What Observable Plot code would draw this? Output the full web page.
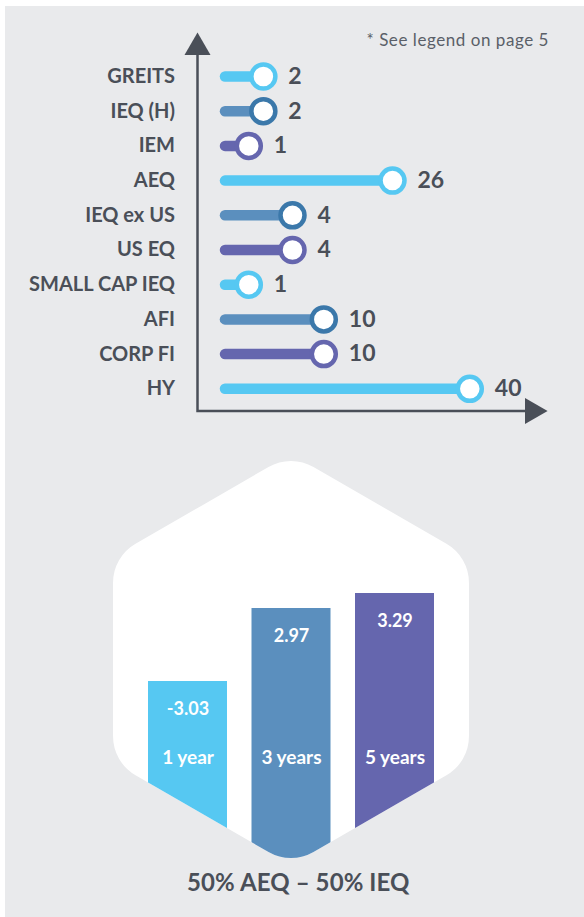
<!DOCTYPE html>
<html>
<head>
<meta charset="utf-8">
<script src="https://cdn.jsdelivr.net/npm/d3@7"></script>
<script src="https://cdn.jsdelivr.net/npm/@observablehq/plot@0.6"></script>
<style>
  body { margin: 0; background: #ffffff; }
  #page { position: relative; width: 584px; height: 917px; overflow: hidden; font-family: Lato, "Open Sans", sans-serif; }
  #bg { position: absolute; left: 5px; top: 6px; right: 0; bottom: 0; background: #e9eaec; }
  #top, #bottom { position: absolute; left: 0; }
  #top { top: 0; }
  #bottom { top: 440px; }
  #note { position: absolute; right: 35px; top: 30px; font-size: 17px; letter-spacing: 0.55px; line-height: 20px; color: #5a5f68; white-space: nowrap; }
  #caption { position: absolute; left: 187px; top: 868px; font-size: 24px; letter-spacing: 0.1px; line-height: 28px; font-weight: bold; color: #4a4f58; white-space: nowrap; }
  svg text { font-weight: bold; }
</style>
</head>
<body>
<div id="page">
  <div id="bg"></div>
  <div id="top"></div>
  <div id="note"></div>
  <div id="bottom"></div>
  <div id="caption"></div>
</div>
<script>
// ---- data ----
const categories = ["GREITS", "IEQ (H)", "IEM", "AEQ", "IEQ ex US", "US EQ", "SMALL CAP IEQ", "AFI", "CORP FI", "HY"];
const weights = [2, 2, 1, 26, 4, 4, 1, 10, 10, 40];
const periods = ["1 year", "3 years", "5 years"];
const returns = [-3.03, 2.97, 3.29];
const noteText = "* See legend on page 5";
const captionText = "50% AEQ \u2013 50% IEQ";

// ---- styles ----
const ink = "#4a4f58";
const barColors = ["#56c8f2", "#5b8fbe", "#6566ae"];
const ringColors = ["#56c8f2", "#3b78aa", "#6566ae"];

const rows = categories.map((name, i) => ({name, value: weights[i], tone: i % 3}));
const bars = periods.map((period, i) => ({period, value: returns[i], tone: i}));

// axis lines with arrowheads, drawn from the frame dimensions
function arrowAxes(index, scales, values, dims) {
  const {width, height, marginLeft, marginRight, marginTop, marginBottom} = dims;
  const x0 = marginLeft, y0 = height - marginBottom, x1 = width - marginRight, y1 = marginTop;
  const g = d3.create("svg:g");
  g.append("path")
    .attr("d", `M${x0},${y1}V${y0}H${x1}`)
    .attr("fill", "none").attr("stroke", ink).attr("stroke-width", 2.5);
  g.append("path")
    .attr("d", `M${x0 - 13},${y1}L${x0},${y1 - 22.6}L${x0 + 13},${y1}Z`)
    .attr("fill", ink);
  g.append("path")
    .attr("d", `M${x1},${y0 - 13}L${x1 + 22.6},${y0}L${x1},${y0 + 13}Z`)
    .attr("fill", ink);
  return g.node();
}

const topChart = Plot.plot({
  width: 584,
  height: 440,
  marginTop: 55,
  marginBottom: 29,
  marginLeft: 197.5,
  marginRight: 59,
  style: {background: "transparent", color: ink, fontFamily: "Lato, 'Open Sans', sans-serif", overflow: "visible"},
  x: {type: "linear", domain: [0, 1, 4, 10, 26, 40], range: [225, 248.3, 292, 323.3, 392, 469.3], axis: null},
  y: {type: "point", domain: categories, padding: 0, round: false, insetTop: 21, insetBottom: 22.7, axis: null},
  color: {type: "identity"},
  marks: [
    arrowAxes,
    Plot.axisY({tickSize: 0, tickPadding: 23, fontSize: 20, fontWeight: "bold", label: null, fill: ink}),
    Plot.ruleY(rows, {y: "name", x1: 0, x2: "value", stroke: d => barColors[d.tone], strokeWidth: 10.5, strokeLinecap: "round"}),
    Plot.dot(rows, {x: "value", y: "name", r: 12, fill: "white", stroke: d => ringColors[d.tone], strokeWidth: 4.5}),
    Plot.text(rows, {x: "value", y: "name", text: d => String(d.value), dx: 25, textAnchor: "start", fontSize: 23, fontWeight: "bold", fill: ink})
  ]
});
document.getElementById("top").appendChild(topChart);

// rounded hexagon panel behind the bars
const hexR = 205.5, hexCorner = 45;
function hexPathD(cx, cy) {
  const pts = d3.range(6).map(i => {
    const a = (-90 + 60 * i) * Math.PI / 180;
    return [cx + hexR * Math.cos(a), cy + hexR * Math.sin(a)];
  });
  const p = d3.path();
  const m = [(pts[5][0] + pts[0][0]) / 2, (pts[5][1] + pts[0][1]) / 2];
  p.moveTo(m[0], m[1]);
  for (let i = 0; i < 6; i++) {
    const a = pts[i], b = pts[(i + 1) % 6];
    p.arcTo(a[0], a[1], b[0], b[1], hexCorner);
  }
  p.closePath();
  return p.toString();
}
function hexPanel(index, scales, values, dims) {
  const x = scales.x;
  const cx = (x(periods[0]) + x(periods[periods.length - 1]) + x.bandwidth()) / 2;
  const cy = dims.height / 2 + 4.5;
  const d = hexPathD(cx, cy);
  const g = d3.create("svg:g");
  g.append("defs").append("clipPath").attr("id", "hexclip").append("path").attr("d", d);
  g.append("path").attr("d", d).attr("fill", "#ffffff");
  return g.node();
}

const bottomChart = Plot.plot({
  width: 584,
  height: 430,
  marginTop: 0,
  marginBottom: 0,
  marginLeft: 148,
  marginRight: 150,
  style: {background: "transparent", color: ink, fontFamily: "Lato, 'Open Sans', sans-serif", overflow: "visible"},
  x: {type: "band", domain: periods, paddingInner: 0.2367, paddingOuter: 0, round: false, axis: null},
  y: {type: "linear", domain: [-12, -3.03, 2.97, 3.29], range: [470, 241, 168, 153], axis: null},
  color: {type: "identity"},
  marks: [
    hexPanel,
    Plot.barY(bars, {
      x: "period", y1: -12, y2: "value", fill: d => barColors[d.tone],
      render(index, scales, values, dims, context, next) {
        const g = next(index, scales, values, dims, context);
        g.setAttribute("clip-path", "url(#hexclip)");
        return g;
      }
    }),
    Plot.text(bars, {x: "period", y: "value", text: d => d.value.toFixed(2), dy: 28, fill: "white", fontSize: 18, fontWeight: "bold"}),
    Plot.text(bars, {x: "period", text: "period", frameAnchor: "top", lineAnchor: "middle", dy: 317, fill: "white", fontSize: 19, fontWeight: "bold"})
  ]
});
document.getElementById("bottom").appendChild(bottomChart);

document.getElementById("note").textContent = noteText;
document.getElementById("caption").textContent = captionText;
</script>
</body>
</html>
